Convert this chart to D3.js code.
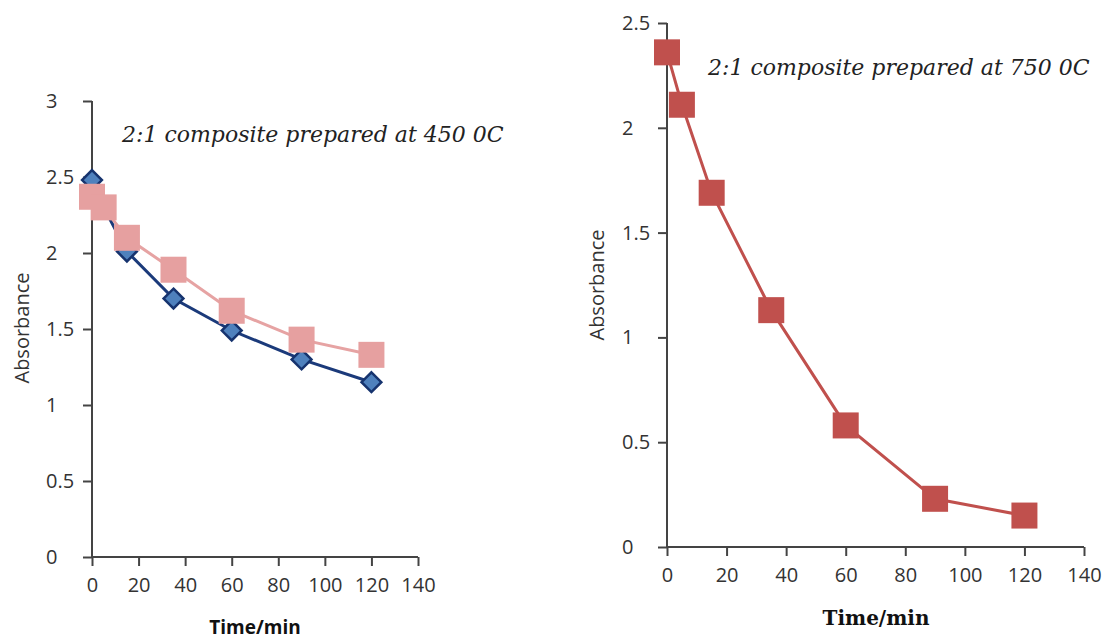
<!DOCTYPE html>
<html>
<head>
<meta charset="utf-8">
<script src="https://cdn.jsdelivr.net/npm/d3@7"></script>
<style>
  body { margin: 0; background: #fff; }
</style>
</head>
<body>
<div id="chart"></div>
<script>
// data
const times = [0, 5, 15, 35, 60, 90, 120];
const abs450Blue = [2.48, 2.3, 2.01, 1.70, 1.49, 1.30, 1.15];
const abs450Pink = [2.37, 2.30, 2.10, 1.89, 1.62, 1.43, 1.33];
const abs750 = [2.36, 2.11, 1.69, 1.13, 0.58, 0.23, 0.15];
const xTicks = [0, 20, 40, 60, 80, 100, 120, 140];
const yTicksLeft = [0, 0.5, 1, 1.5, 2, 2.5, 3];
const yTicksRight = [0, 0.5, 1, 1.5, 2, 2.5];

const svg = d3.select("#chart").append("svg")
  .attr("width", 1107).attr("height", 640);

const sans = "Open Sans, Noto Sans, sans-serif";
const serif = "DejaVu Serif, serif";

function drawAxes(g, x, y, yt, w, h, labelX) {
  const ax = g.append("g").attr("transform", `translate(0,${h})`)
    .call(d3.axisBottom(x).tickValues(xTicks).tickSize(9).tickPadding(12).tickFormat(d3.format("d")));
  const ay = g.append("g")
    .call(d3.axisLeft(y).tickValues(yt).tickSize(9).tickFormat(d => d));
  [ax, ay].forEach(a => {
    a.select(".domain").attr("stroke", "#444").attr("stroke-width", 2);
    a.selectAll(".tick line").attr("stroke", "#444").attr("stroke-width", 2);
    a.selectAll(".tick text").attr("fill", "#333")
      .style("font-family", sans).style("font-size", "20px");
  });
  // y labels in the figure are left aligned
  ay.selectAll(".tick text").attr("text-anchor", "start").attr("x", labelX);
  ax.select(".domain").attr("d", `M0,0H${w}`);
  ay.select(".domain").attr("d", `M0,0V${h}`);
}

// ---- left chart: 450 C ----
const lm = {left: 92, top: 101}, lw = 326, lh = 456;
const gl = svg.append("g").attr("transform", `translate(${lm.left},${lm.top})`);
const xl = d3.scaleLinear().domain([0, 140]).range([0, lw]);
const yl = d3.scaleLinear().domain([0, 3]).range([lh, 0]);
drawAxes(gl, xl, yl, yTicksLeft, lw, lh, -46);

const line450 = vals => d3.line().x((d, i) => xl(times[i])).y(d => yl(d))(vals);
gl.append("path").attr("d", line450(abs450Blue))
  .attr("fill", "none").attr("stroke", "#1b3a7a").attr("stroke-width", 3);
gl.append("path").attr("d", line450(abs450Pink))
  .attr("fill", "none").attr("stroke", "#e6a3a3").attr("stroke-width", 3);
gl.selectAll(".dia").data(abs450Blue).join("path")
  .attr("d", d3.symbol(d3.symbolDiamond2, 250))
  .attr("transform", (d, i) => `translate(${xl(times[i])},${yl(d)})`)
  .attr("fill", "#4f81bd").attr("stroke", "#16336e").attr("stroke-width", 2.5);
gl.selectAll(".sqp").data(abs450Pink).join("rect")
  .attr("x", (d, i) => xl(times[i]) - 13).attr("y", d => yl(d) - 13)
  .attr("width", 26).attr("height", 26).attr("fill", "#e6a0a0");

svg.append("text").attr("x", 122).attr("y", 142)
  .style("font-family", serif).style("font-style", "italic")
  .style("font-size", "22px").attr("fill", "#222")
  .text("2:1 composite prepared at 450 0C");
svg.append("text").attr("transform", "translate(29,328) rotate(-90)")
  .attr("text-anchor", "middle")
  .style("font-family", sans).style("font-size", "20px").attr("fill", "#333")
  .text("Absorbance");
svg.append("text").attr("x", 255).attr("y", 634).attr("text-anchor", "middle")
  .style("font-family", sans).style("font-weight", "bold")
  .style("font-size", "19px").attr("fill", "#111")
  .text("Time/min");

// ---- right chart: 750 C ----
const rm = {left: 667, top: 23}, rw = 417, rh = 524;
const gr = svg.append("g").attr("transform", `translate(${rm.left},${rm.top})`);
const xr = d3.scaleLinear().domain([0, 140]).range([0, rw]);
const yr = d3.scaleLinear().domain([0, 2.5]).range([rh, 0]);
drawAxes(gr, xr, yr, yTicksRight, rw, rh, -45);

gr.append("path")
  .attr("d", d3.line().x((d, i) => xr(times[i])).y(d => yr(d))(abs750))
  .attr("fill", "none").attr("stroke", "#c0504d").attr("stroke-width", 3);
gr.selectAll(".sqr").data(abs750).join("rect")
  .attr("x", (d, i) => xr(times[i]) - 13).attr("y", d => yr(d) - 13)
  .attr("width", 26).attr("height", 26).attr("fill", "#c0504d");

svg.append("text").attr("x", 708).attr("y", 75)
  .style("font-family", serif).style("font-style", "italic")
  .style("font-size", "22px").attr("fill", "#222")
  .text("2:1 composite prepared at 750 0C");
svg.append("text").attr("transform", "translate(604,285) rotate(-90)")
  .attr("text-anchor", "middle")
  .style("font-family", sans).style("font-size", "20px").attr("fill", "#333")
  .text("Absorbance");
svg.append("text").attr("x", 876).attr("y", 625).attr("text-anchor", "middle")
  .style("font-family", serif).style("font-weight", "bold")
  .style("font-size", "20px").attr("fill", "#111")
  .text("Time/min");
</script>
</body>
</html>
